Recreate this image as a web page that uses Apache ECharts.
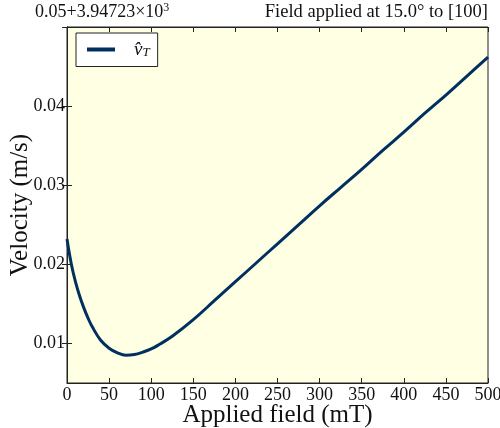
<!DOCTYPE html>
<html><head><meta charset="utf-8">
<script src="https://cdn.jsdelivr.net/npm/echarts@6/dist/echarts.min.js"></script>
<style>html,body{margin:0;padding:0;background:#fff}#c{width:500px;height:428px}</style>
</head><body><div id="c"></div>
<script>
// Applied field (mT)
const fields = [0,5,10,15,20,25,30,40,50,60,70,80,90,100,110,125,150,175,200,225,250,275,300,325,350,375,400,425,450,475,500];
// Velocity minus offset 3.94723e3 (m/s)
const velocity = [0.0232,0.0201,0.0178,0.0160,0.0145,0.0132,0.0121,0.0104,0.0094,0.0088,0.0085,0.0086,0.0089,0.0093,0.0099,0.0109,0.0130,0.0154,0.0178,0.0202,0.0226,0.0250,0.0274,0.0297,0.0320,0.0344,0.0367,0.0391,0.0414,0.0438,0.0462];
const xTicks = [0,50,100,150,200,250,300,350,400,450,500];
const yTicks = [0.01,0.02,0.03,0.04,0.05];
const seriesName = 'v̂T';
const titleText = 'Field applied at 15.0° to [100]';
const offsetText = '+3.94723×10';

const F = '"Liberation Serif", "DejaVu Serif", serif';
const chart = echarts.init(document.getElementById('c'), null, {renderer:'canvas'});
const data = fields.map((f,i)=>[f, velocity[i]]);
const axLine = {show:true, lineStyle:{color:'#222', width:1}};
const tick = {show:true, inside:true, length:5, lineStyle:{color:'#222', width:1}};
chart.setOption({
  animation:false,
  backgroundColor:'#ffffff',
  grid:{left:67, right:12, top:27, bottom:45, outerBoundsMode:'none', containLabel:false, show:true, backgroundColor:'#ffffe3', borderColor:'#222', borderWidth:1},
  xAxis:[{type:'value', min:0, max:500, interval:50, position:'bottom',
    axisLine:axLine, axisTick:tick, splitLine:{show:false},
    axisLabel:{color:'#111', fontFamily:F, fontSize:18, margin:3},
    name:'Applied field (mT)', nameLocation:'middle', nameGap:20, nameMoveOverlap:false,
    nameTextStyle:{color:'#111', fontFamily:F, fontSize:25}},
   {type:'value', min:0, max:500, interval:50, position:'top',
    axisLine:axLine, axisTick:tick, splitLine:{show:false}, axisLabel:{show:false}}],
  yAxis:[{type:'value', min:0.005, max:0.05, position:'left',
    axisLine:axLine, splitLine:{show:false},
    axisTick:Object.assign({customValues:yTicks}, tick),
    axisLabel:{customValues:yTicks.slice(0,4), color:'#111', fontFamily:F, fontSize:18, margin:2, formatter:v=>v.toFixed(2)},
    name:'Velocity (m/s)', nameLocation:'middle', nameGap:34, nameRotate:90, nameMoveOverlap:false,
    nameTextStyle:{color:'#111', fontFamily:F, fontSize:25}},
   {type:'value', min:0.005, max:0.05, position:'right',
    axisLine:axLine, splitLine:{show:false},
    axisTick:Object.assign({customValues:yTicks}, tick), axisLabel:{show:false}}],
  legend:{show:true, left:76, top:33, orient:'vertical', itemWidth:28, itemHeight:4, itemGap:0,
    padding:[7,8,7,11], backgroundColor:'#ffffff', borderColor:'#222', borderWidth:1, borderRadius:0,
    icon:'rect',
    textStyle:{fontFamily:F, fontSize:18, fontStyle:'italic', color:'#111', padding:[0,0,0,14],
      rich:{v:{fontFamily:F, fontSize:19, fontStyle:'italic', color:'#111'}, s:{fontFamily:F, fontSize:13, fontStyle:'italic', color:'#111', verticalAlign:'bottom', padding:[7,0,0,0]}}},
    formatter:()=>'{v|v̂}{s|T}',
    data:[seriesName]},
  title:[
    {text:titleText, right:12, top:3, padding:0, textStyle:{fontFamily:F, fontSize:18.5, fontWeight:'normal', color:'#111'}},
    {text:'0.05' + offsetText + '{sup|3}', left:35, top:2, padding:0,
     textStyle:{fontFamily:F, fontSize:18, fontWeight:'normal', color:'#111',
       rich:{sup:{fontFamily:F, fontSize:12, color:'#111', verticalAlign:'top', padding:[0,0,9,0]}}}}
  ],
  series:[{name:seriesName, type:'line', data:data, smooth:0.4, showSymbol:false,
    lineStyle:{color:'#00305f', width:3}, itemStyle:{color:'#00305f'}}]
});
</script></body></html>
